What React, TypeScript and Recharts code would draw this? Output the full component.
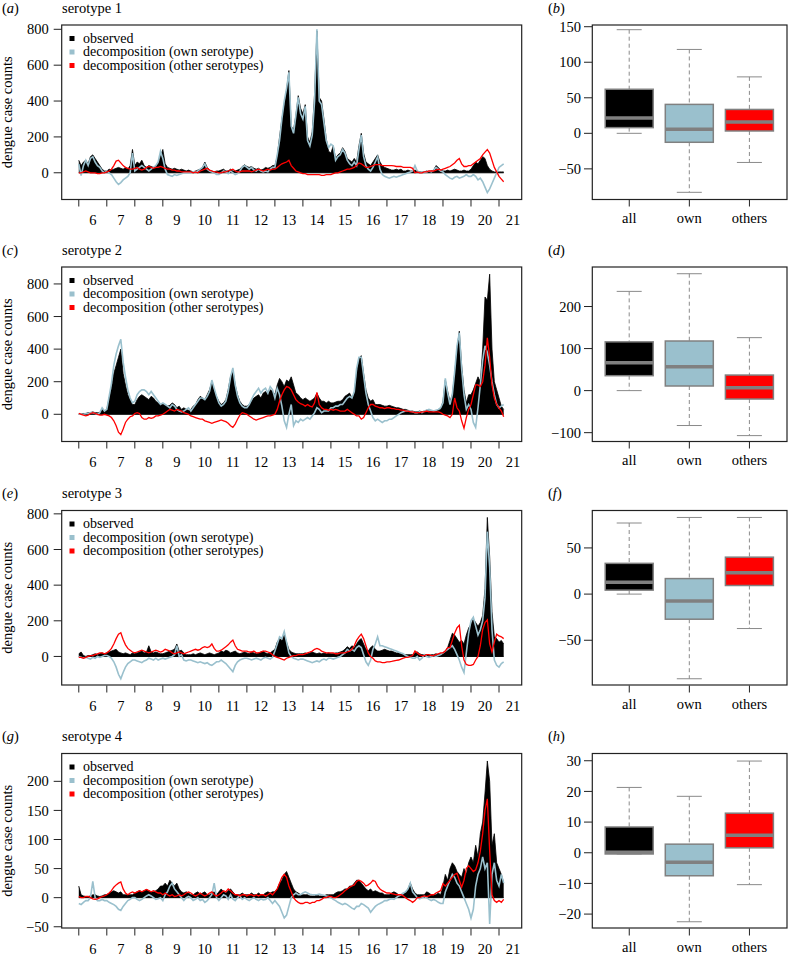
import React from "react";
import { ComposedChart, Area, Line, XAxis, YAxis, ReferenceLine, BarChart, Bar } from "recharts";

const FONT = "Liberation Serif, DejaVu Serif, Tinos, serif";
const OWN = "#9AC0CD";
const OTHER = "#FF0000";
const FRAME = "#222222";
const BOXLINE = "#808080";

// monthly values, Jan 2006 .. Mar 2021
const START_YEAR = 2006;

const obs1 = [
  70, 40, 60, 70, 50, 90, 100, 80, 60, 40, 20, 10,
  10, 20, 15, 20, 25, 30, 25, 20, 30, 20, 40, 130,
  40, 60, 50, 70, 40, 30, 40, 35, 30, 40, 50, 90,
  130, 50, 30, 25, 20, 25, 20, 15, 20, 15, 10, 15,
  10, 5, 10, 15, 20, 30, 60, 30, 15, 10, 5, 10,
  10, 15, 20, 10, 10, 20, 10, 10, 15, 20, 35, 45,
  35, 30, 35, 25, 20, 25, 15, 20, 30, 25, 30, 40,
  40, 90, 200, 300, 380, 460, 570, 260, 240, 320, 430, 360,
  330, 380, 200, 170, 230, 440, 790, 420, 400, 300, 190, 120,
  110, 150, 80, 100, 110, 140, 120, 80, 70, 60, 80, 60,
  150, 220, 110, 60, 50, 40, 60, 80, 100, 60, 40, 30,
  25, 20, 15, 15, 20, 15, 20, 10, 10, 15, 10, 10,
  15, 10, 5, 5, 5, 10, 5, 10, 15, 40, 30, 15,
  10, 10, 15, 10, 15, 20, 15, 10, 10, 15, 10, 10,
  20, 40, 60, 50, 70, 90, 80, 40, 20, 10, 5, 5,
  5, 5, 5,
];
const own1 = [
  50, -15, 40, 70, 40, 80, 90, 60, 40, 30, 10, 0,
  10, 0, -10, -30, -50, -65, -55, -40, -30, -20, 0, 110,
  10, 20, 30, 40, 30, 20, 10, 20, 30, 40, 60, 120,
  80, 20, -10, -15, -20, -10, -15, -10, -5, 0, 0, 0,
  0, 5, 5, 10, 20, 30, 50, 20, 10, 5, 0, -10,
  -10, 0, 10, 5, -5, 10, 0, -10, -5, 10, 30, 40,
  30, 20, 30, 15, 10, 20, 10, 5, 10, 5, 20, 30,
  30, 100, 180, 300, 400, 470, 560, 260, 220, 320, 420, 330,
  300, 370, 180, 150, 210, 400, 800, 400, 380, 280, 180, 140,
  160, 150, 70, 90, 100, 130, 110, 70, 50, 40, 60, 40,
  130, 210, 90, 40, 20, 10, 30, 60, 90, 20, -10, -20,
  -25, -30, -25, -20, -25, -20, -15, -10, -5, 0, 5, 10,
  40, 10, 0, 5, 0, 5, 10, 5, 15, 30, 20, 10,
  5, -10, -20, -30, -35, -25, -20, -30, -25, -20, -10, -20,
  -20, -10, -20, -40, -30, -50, -80, -110, -90, -60, -30, 0,
  30, 40, 50,
];
const oth1 = [
  0, 0, 5, 10, 5, 0, 0, 0, -5, -5, 0, 0,
  5, 10, 20, 40, 65, 70, 55, 40, 30, 25, 20, 20,
  25, 30, 20, 15, 20, 30, 35, 30, 25, 30, 30, 35,
  30, 25, 20, 20, 15, 15, 10, 10, 5, 5, 5, 5,
  5, 0, 5, 0, 10, 15, 20, 25, 15, 10, 5, 5,
  0, 0, 5, 5, 10, 15, 20, 10, 5, 5, 10, 10,
  10, 10, 5, 10, 15, 20, 15, 10, 15, 20, 15, 20,
  20, 30, 40, 50, 55, 60, 70, 40, 25, 10, 5, 0,
  -5, -5, -10, -10, -10, -10, -10, -10, -15, -15, -10, -10,
  -10, -5, 0, 0, 5, 10, 15, 20, 20, 25, 30, 40,
  55, 50, 40, 30, 30, 35, 40, 45, 45, 45, 40, 40,
  40, 40, 40, 38, 35, 35, 35, 30, 30, 30, 30, 25,
  0, 5, 0, 0, 5, 5, 10, 10, 10, 15, 20, 15,
  20, 25, 30, 35, 45, 55, 70, 80, 50, 35, 35, 40,
  40, 50, 60, 70, 80, 100, 115, 130, 110, 70, 30, 5,
  -20, -35, -50,
];

const obs2 = [
  0, 0, 5, 5, 10, 10, 15, 10, 10, 10, 30, 20,
  30, 100, 160, 250, 300, 350, 400, 250, 180, 120, 90, 60,
  60, 90, 110, 120, 110, 100, 90, 110, 100, 80, 70, 60,
  60, 60, 50, 55, 70, 60, 40, 50, 30, 40, 30, 25,
  30, 50, 60, 90, 110, 100, 90, 120, 150, 200, 150, 110,
  80, 60, 70, 90, 150, 230, 270, 180, 120, 80, 60, 50,
  50, 60, 80, 100, 110, 120, 100, 130, 140, 120, 150, 140,
  120, 180, 220, 200, 170, 210, 200, 230, 180, 130, 120, 100,
  90, 100, 90, 80, 90, 100, 130, 100, 80, 80, 70, 80,
  70, 70, 75, 80, 80, 90, 110, 120, 130, 100, 130, 250,
  340, 360, 250, 150, 100, 80, 90, 60, 60, 60, 55, 50,
  50, 55, 50, 45, 40, 40, 35, 30, 30, 25, 20, 20,
  15, 15, 20, 15, 20, 25, 20, 20, 20, 20, 25, 30,
  80, 210, 140, 80, 120, 250, 400, 510, 300, 150, 70, 120,
  120, 150, 190, 230, 200, 400, 720, 700, 860, 400, 200, 150,
  100, 50, 30,
];
const own2 = [
  0, 0, 0, 5, 5, 10, 10, 5, 0, 10, 40, 20,
  30, 110, 190, 300, 370, 420, 460, 320, 230, 150, 100, 70,
  80, 120, 140, 150, 150, 140, 120, 140, 120, 100, 80, 60,
  70, 60, 50, 40, 60, 50, 30, 20, 15, 20, 30, 40,
  20, 40, 60, 80, 100, 100, 90, 110, 140, 210, 160, 110,
  70, 50, 60, 80, 140, 230, 285, 180, 110, 70, 50, 40,
  40, 60, 90, 120, 140, 160, 130, 150, 160, 130, 170, 150,
  100, 160, 120, 50, -40, -80, 0, 60, -70, -40, -50, -30,
  -40, -30, -20, -30, -10, 10, 40, 30, 10, 20, 20, 20,
  40, 40, 50, 50, 60, 60, 80, 100, 110, 100, 140, 280,
  350, 350, 240, 130, 60, 20, -20, -40, -30, -40, -50, -40,
  -40, -30, -30, -20, -10, 0, 10, 15, 20, 20, 20, 15,
  10, 10, 15, 10, 20, 25, 30, 25, 20, 25, 30, 40,
  70, 220, 130, 60, 120, 260, 420, 500, 280, 120, 30, 60,
  30, -50, -80, 40, 180, 330, 420, 380, 300, 200, 120, 60,
  40, 50, 60,
];
const oth2 = [
  5, 0, -5, -10, -5, 5, 10, 5, 0, -5, -5, 0,
  -5, -10, -20, -40, -70, -110, -125, -90, -50, -30, -15, -10,
  5, 10, 5, -20, -30, -30, -20, -25, -20, -10, -10, -5,
  0, 10, 20, 30, 25, 20, 30, 25, 20, 10, 5, 0,
  -10, -15, -20, -25, -30, -30, -40, -45, -50, -55, -50, -45,
  -40, -35, -40, -45, -55, -70, -80, -60, -30, -5, 10, 5,
  0, -10, -20, -30, -35, -30, -25, -20, -15, -10, -10, -5,
  0, 30, 80, 120, 150, 170, 165, 150, 120, 90, 75, 65,
  60, 50, 60, 50, 45, 70, 135, 60, 40, 30, 30, 25,
  30, 25, 30, 25, 20, 20, 20, 30, 20, 10, 0, -10,
  -10, -30, -20, 10, 40, 60, 60, 50, 45, 40, 40, 35,
  40, 40, 35, 35, 30, 30, 25, 25, 20, 20, 15, 15,
  10, 10, 10, 15, 15, 20, 15, 15, 15, 15, 15, 10,
  0, -5, -10, -20, 0, 100, 40, 20, -40, -85, -20, 30,
  60, 120, 180, 180, 170, 200, 300, 470, 350, 180, 100, 60,
  40, 20, -15,
];

const obs3 = [
  15, 25, 5, 0, 5, 5, 10, 15, 10, 15, 20, 15,
  20, 25, 30, 35, 40, 25, 20, 15, 20, 15, 10, 20,
  15, 20, 25, 30, 20, 25, 60, 25, 20, 25, 20, 15,
  15, 20, 25, 30, 35, 40, 70, 30, 35, 20, 10, 10,
  10, 15, 10, 15, 20, 15, 10, 15, 20, 15, 10, 15,
  20, 30, 25, 35, 30, 20, 25, 30, 20, 15, 20, 25,
  20, 15, 25, 20, 15, 20, 25, 30, 20, 15, 20, 30,
  40, 80, 100, 90, 120, 80, 40, 25, 20, 15, 15, 15,
  15, 20, 15, 20, 25, 20, 15, 20, 15, 20, 15, 20,
  15, 15, 20, 20, 25, 30, 40, 55, 45, 60, 50, 70,
  90, 100, 70, 40, 30, 50, 60, 40, 30, 30, 35, 40,
  35, 30, 30, 25, 20, 20, 15, 10, 10, 10, 10, 10,
  20, 25, 15, 10, 10, 10, 5, 10, 10, 15, 10, 15,
  15, 30, 50, 90, 130, 120, 100, 80, 90, 70, 120, 160,
  180, 210, 190, 170, 190, 230, 380, 780, 560, 250, 110, 100,
  80, 90, 70,
];
const own3 = [
  0, -5, -10, -5, -10, -15, -5, -10, 0, -5, 0, 5,
  5, 0, -10, -30, -60, -100, -125, -90, -60, -40, -30, -20,
  -20, -25, -30, -35, -25, -20, -10, -15, -20, -10, -20, -15,
  -10, -15, -10, -5, 0, 10, 60, 0, 10, -20, -25, -20,
  -20, -25, -30, -35, -30, -35, -40, -35, -45, -50, -40, -30,
  -30, -20, -30, -40, -55, -70, -85, -50, -30, -20, -15, -10,
  -10, -15, -20, -15, -10, -15, -20, -10, -5, -10, -15, -5,
  30, 70, 110, 100, 140, 80, 20, 0, -10, -15, -20, -15,
  -15, -20, -25, -30, -35, -30, -25, -30, -20, -15, -20, -10,
  -10, -15, -10, -5, 0, 10, 20, 40, 30, 40, 30, 50,
  60, 50, 10, -30, -50, -20, 40, 70, 110, 60, 60, 55,
  50, 45, 40, 35, 30, 25, 20, 15, 5, 0, -5, -10,
  -10, 0, -20, -10, 10, 0, -5, 0, 5, 0, 5, 10,
  20, 30, 40, 50, 60, 40, 10, -20, -60, -90, 20, 130,
  200, 220, 170, 120, 150, 200, 330, 700, 500, 150, -20, -50,
  -60, -40, -30,
];
const oth3 = [
  -5, -5, -10, -5, 0, 5, 5, 10, 15, 20, 20, 15,
  20, 30, 45, 70, 100, 125, 133, 95, 65, 45, 35, 25,
  20, 25, 30, 35, 30, 25, 20, 25, 30, 35, 30, 25,
  30, 40, 35, 30, 20, 15, 20, 25, 20, 15, 20, 25,
  30, 35, 40, 35, 40, 50, 55, 50, 55, 70, 45, 30,
  30, 35, 45, 55, 65, 80, 92, 60, 40, 35, 30, 30,
  30, 25, 25, 30, 20, 20, 25, 30, 30, 25, 20, 10,
  0, -5, -10, -15, -20, -10, -5, 0, 5, 5, 10, 10,
  10, 15, 20, 25, 30, 40, 45, 40, 30, 25, 20, 20,
  20, 20, 15, 15, 20, 20, 20, 25, 30, 40, 60, 90,
  110, 125, 100, 60, 20, 0, -10, -25, -30, -30, -35, -35,
  -30, -30, -28, -25, -22, -20, -15, -10, -5, -5, 0, 5,
  30, 20, 10, 5, 5, 10, 10, 5, 5, 10, 15, 20,
  20, 30, 50, 50, 90, 130, 160, 175, 60, -20, -45, -50,
  -50, -45, -20, 0, 60, 150, 190, 205, 70, 25, 80, 125,
  115, 110, 100,
];

const obs4 = [
  20, 5, 3, 2, 2, 3, 5, 5, 3, 2, 3, 5,
  5, 8, 10, 12, 10, 8, 10, 5, 5, 5, 5, 5,
  8, 10, 12, 10, 12, 14, 12, 10, 10, 12, 15, 20,
  20, 25, 20, 30, 25, 20, 25, 15, 10, 8, 10, 8,
  5, 5, 8, 10, 5, 8, 10, 5, 5, 8, 10, 5,
  10, 15, 10, 8, 12, 15, 10, 5, 5, 5, 8, 5,
  5, 5, 8, 5, 5, 8, 5, 5, 8, 10, 8, 10,
  10, 15, 25, 30, 40, 45, 35, 25, 15, 10, 8, 5,
  5, 5, 5, 3, 3, 3, 5, 3, 3, 3, 5, 5,
  5, 5, 8, 10, 10, 12, 15, 15, 20, 20, 25, 30,
  30, 25, 20, 15, 12, 15, 10, 12, 10, 8, 8, 5,
  5, 5, 8, 10, 8, 5, 5, 5, 10, 15, 25, 15,
  8, 5, 5, 5, 5, 10, 8, 5, 5, 5, 8, 5,
  20, 40, 30, 50, 60, 55, 45, 40, 35, 50, 40, 60,
  70, 60, 90, 70, 110, 130, 180, 235, 200, 90, 110, 60,
  50, 40, 25,
];
const own4 = [
  -10, -12, -8, -5, -5, 0, 28, 0, -5, -5, -3, -5,
  -5, -8, -10, -12, -15, -20, -22, -15, -10, -5, -3, 0,
  0, -3, -5, -3, 0, 3, 5, 3, 0, -3, -2, 0,
  -5, 5, 10, 20, 25, 15, 10, 5, 0, -5, 0, 2,
  0, -5, -3, 0, -5, -3, -8, -5, 0, 5, 25, 0,
  -5, 0, 5, 3, -3, 5, -2, -5, 0, 3, -3, 0,
  -3, -5, -2, 0, -3, -5, -2, -4, -3, 0, -5, -10,
  -5, -10, -15, -25, -35, -30, -15, 0, 5, 8, 5, 5,
  8, 10, 8, 6, 5, 5, 5, 6, 5, 4, 3, 2,
  0, -3, -5, -8, -10, -12, -10, -12, -15, -18, -20, -15,
  -15, -10, -12, -15, -18, -25, -20, -15, -12, -10, -8, -5,
  -5, -3, -2, -3, 0, 3, 5, 8, 10, 15, 25, 10,
  5, 0, -2, 0, 2, 0, -3, -5, -3, -5, -8, -10,
  -10, 10, 20, 30, 40, 35, 25, 20, 10, 0, -10, -20,
  -35, -20, 20, 40, 50, 70, 50, 60, -45, 40, 60, 30,
  20, 40, 25,
];
const oth4 = [
  2, 0, 0, 2, 2, 0, -2, -3, -2, 0, 2, 3,
  5, 8, 12, 18, 22, 25, 27, 15, 8, 5, 8, 10,
  8, 10, 12, 10, 12, 14, 12, 10, 12, 10, 8, 8,
  5, 8, 5, 3, 5, 2, 3, 5, 3, 5, 8, 10,
  8, 5, 3, 5, 8, 5, 3, 5, 8, 10, 5, 3,
  5, 8, 12, 10, 15, 12, 8, 5, 5, 3, 5, 5,
  3, 5, 5, 3, 5, 3, 5, 5, 3, 5, 8, 5,
  10, 15, 25, 35, 40, 35, 20, 10, 0, -5, -8, -10,
  -10, -8, -8, -10, -8, -8, -5, -5, -3, 0, 0, 2,
  2, 0, 0, 2, 5, 8, 12, 15, 18, 20, 22, 28,
  30, 28, 25, 20, 22, 25, 30, 28, 20, 15, 12, 10,
  8, 8, 7, 6, 5, 5, 5, 3, 0, -3, -5, -8,
  -5, 0, 0, 2, 3, 2, 3, 5, 5, 8, 10, 12,
  24, 20, 25, 30, 35, 40, 42, 30, 18, 30, 50, 55,
  50, 45, 48, 60, 80, 110, 150, 170, 80, 5, -5, -8,
  -5, -8, -3,
];

const yearTicks = [2006, 2007, 2008, 2009, 2010, 2011, 2012, 2013, 2014, 2015, 2016, 2017, 2018, 2019, 2020, 2021];
const yearLabels = ["6", "7", "8", "9", "10", "11", "12", "13", "14", "15", "16", "17", "18", "19", "20", "21"];

const boxNames = ["all", "own", "others"];
const boxFills = ["#000000", OWN, OTHER];

const box1 = { low: [0, -83, -41], q1: [8, -12.6, 3.3], med: [21.5, 5.6, 15.9], q3: [62, 40.7, 33.6], high: [145.8, 118, 79.4] };
const box2 = { low: [0, -83, -107], q1: [35.5, 11, -20], med: [66, 57, 7], q3: [116, 118, 37], high: [236, 278, 126] };
const box3 = { low: [0, -91.7, -37.3], q1: [4.3, -27.2, 9.3], med: [12.9, -7.5, 23], q3: [33.3, 16.8, 40], high: [77, 83, 83] };
const box4 = { low: [-0.4, -22.5, -10.4], q1: [-0.4, -7.5, 1.6], med: [0.2, -3.1, 5.7], q3: [8.4, 2.8, 12.9], high: [21.3, 18.4, 29.9] };

const X_DOMAIN: [number, number] = [2005.39, 2021.81];
const PLOT_H = 174.5;
const TS_LEFT = 61.7;
const TS_W = 460;
const BX_LEFT = 592.3;
const BX_W = 194.7;

const panels = [
  { top: 25, left: "a", right: "b", title: "serotype 1", obs: obs1, own: own1, oth: oth1,
    domain: [-149, 824], ticks: [0, 200, 400, 600, 800], box: box1, boxDomain: [-93.1, 152.4], boxTicks: [-50, 0, 50, 100, 150] },
  { top: 267, left: "c", right: "d", title: "serotype 2", obs: obs2, own: own2, oth: oth2,
    domain: [-167, 904], ticks: [0, 200, 400, 600, 800], box: box2, boxDomain: [-121, 294], boxTicks: [-100, 0, 100, 200] },
  { top: 510.5, left: "e", right: "f", title: "serotype 3", obs: obs3, own: own3, oth: oth3,
    domain: [-163, 816], ticks: [0, 200, 400, 600, 800], box: box3, boxDomain: [-99, 90], boxTicks: [-50, 0, 50] },
  { top: 753.5, left: "g", right: "h", title: "serotype 4", obs: obs4, own: own4, oth: oth4,
    domain: [-53, 247], ticks: [-50, 0, 50, 100, 150, 200], box: box4, boxDomain: [-24.7, 32.2], boxTicks: [-20, -10, 0, 10, 20, 30] },
];

const fmt = (v: number) => (v < 0 ? "\u2212" + Math.abs(v) : String(v));
const tickText = { fill: "#000", fontSize: 14.5, style: { fontFamily: FONT } };

function YearTick(props: any) {
  const { x, y, index } = props;
  const half = TS_W / (X_DOMAIN[1] - X_DOMAIN[0]) / 2;
  return (
    <text x={x + half} y={y} dy="0.71em" textAnchor="middle" fontSize={14.5} style={{ fontFamily: FONT }} fill="#000">
      {yearLabels[index]}
    </text>
  );
}

function BoxShape(props: any) {
  const { x, y, width, height, payload } = props;
  if (x == null || y == null || !payload) return null;
  const cx = x + width / 2;
  const yTop = Math.min(y, y + height);
  const yBot = Math.max(y, y + height);
  const { low, high, q1, med, q3, fill } = payload;
  const span = high - low;
  const py = (v: number) => (span === 0 ? yBot : yBot - ((v - low) / span) * (yBot - yTop));
  const bw = 48;
  const cw = 25;
  return (
    <g>
      <line x1={cx} x2={cx} y1={py(high)} y2={py(q3)} stroke="#8a8a8a" strokeDasharray="4 3" />
      <line x1={cx} x2={cx} y1={py(q1)} y2={py(low)} stroke="#8a8a8a" strokeDasharray="4 3" />
      <line x1={cx - cw / 2} x2={cx + cw / 2} y1={py(high)} y2={py(high)} stroke="#8a8a8a" />
      <line x1={cx - cw / 2} x2={cx + cw / 2} y1={py(low)} y2={py(low)} stroke="#8a8a8a" />
      <rect x={cx - bw / 2} y={py(q3)} width={bw} height={Math.max(py(q1) - py(q3), 0.5)} fill={fill} stroke={BOXLINE} strokeWidth={1.5} />
      <line x1={cx - bw / 2} x2={cx + bw / 2} y1={py(med)} y2={py(med)} stroke={BOXLINE} strokeWidth={3.5} />
    </g>
  );
}

function SeriesChart({ p }: { p: any }) {
  const rows = p.obs.map((v: number, i: number) => ({
    t: START_YEAR + i / 12,
    obs: v,
    own: p.own[i],
    oth: p.oth[i],
  }));
  const tEnd = rows[rows.length - 1].t;
  return (
    <div style={{ position: "absolute", left: 0, top: p.top - 5 }}>
      <ComposedChart width={530} height={5 + PLOT_H + 30} data={rows} margin={{ top: 5, right: 530 - TS_LEFT - TS_W, bottom: 0, left: 0 }}>
        <XAxis dataKey="t" type="number" domain={X_DOMAIN} allowDataOverflow ticks={yearTicks} interval={0}
          axisLine={false} tickLine={{ stroke: FRAME }} tickSize={7} tickMargin={8} height={30}
          tick={(tp: any) => <YearTick {...tp} />} />
        <YAxis type="number" domain={p.domain} allowDataOverflow ticks={p.ticks} interval={0} width={TS_LEFT}
          axisLine={false} tickLine={{ stroke: FRAME }} tickSize={8} tickMargin={5} tick={tickText} tickFormatter={fmt} />
        <Area dataKey="obs" type="linear" baseValue={0} fill="#000" fillOpacity={1} stroke="#000" strokeWidth={0.8}
          dot={false} activeDot={false} isAnimationActive={false} />
        <ReferenceLine segment={[{ x: START_YEAR, y: 0 }, { x: tEnd, y: 0 }]} stroke="#000" strokeWidth={1} />
        <Line dataKey="own" type="linear" stroke={OWN} strokeWidth={1.6} dot={false} activeDot={false} isAnimationActive={false} />
        <Line dataKey="oth" type="linear" stroke={OTHER} strokeWidth={1.3} dot={false} activeDot={false} isAnimationActive={false} />
      </ComposedChart>
    </div>
  );
}

function BoxChart({ p }: { p: any }) {
  const b = p.box;
  const rows = boxNames.map((name, k) => ({
    name,
    low: b.low[k],
    q1: b.q1[k],
    med: b.med[k],
    q3: b.q3[k],
    high: b.high[k],
    range: [b.low[k], b.high[k]],
    fill: boxFills[k],
  }));
  const yw = 60;
  const w = 256;
  return (
    <div style={{ position: "absolute", left: BX_LEFT - yw, top: p.top - 5 }}>
      <BarChart width={w} height={5 + PLOT_H + 30} data={rows} margin={{ top: 5, right: w - yw - BX_W, bottom: 0, left: 0 }}>
        <XAxis dataKey="name" type="category" padding={{ left: 7.2, right: 7.2 }} axisLine={false}
          tickLine={{ stroke: FRAME }} tickSize={7} tickMargin={6} height={30} tick={tickText} interval={0} />
        <YAxis type="number" domain={p.boxDomain} allowDataOverflow ticks={p.boxTicks} interval={0} width={yw}
          axisLine={false} tickLine={{ stroke: FRAME }} tickSize={8} tickMargin={3} tick={tickText} tickFormatter={fmt} />
        <Bar dataKey="range" barSize={48} isAnimationActive={false} shape={(sp: any) => <BoxShape {...sp} />} />
      </BarChart>
    </div>
  );
}

export default function App() {
  return (
    <div style={{ position: "absolute", left: 0, top: 0, width: 788, height: 957, background: "#fff", fontFamily: FONT }}>
      {panels.map((p) => (
        <React.Fragment key={p.left}>
          <SeriesChart p={p} />
          <BoxChart p={p} />
        </React.Fragment>
      ))}
      <svg width={788} height={957} style={{ position: "absolute", left: 0, top: 0, pointerEvents: "none", fontFamily: FONT }}
        fontSize={14.5}>
        {panels.map((p) => (
          <g key={p.left}>
            <rect x={TS_LEFT} y={p.top} width={TS_W} height={PLOT_H} fill="none" stroke={FRAME} strokeWidth={1.2} />
            <rect x={BX_LEFT} y={p.top} width={BX_W} height={PLOT_H} fill="none" stroke={FRAME} strokeWidth={1.2} />
            <text x={2} y={p.top - 12.3}>(<tspan fontStyle="italic">{p.left}</tspan>)</text>
            <text x={62} y={p.top - 12.3}>{p.title}</text>
            <text x={548} y={p.top - 12.3}>(<tspan fontStyle="italic">{p.right}</tspan>)</text>
            <text transform={`translate(12, ${p.top + PLOT_H / 2}) rotate(-90)`} textAnchor="middle">dengue case counts</text>
            <rect x={69.5} y={p.top + 11} width={5} height={5} fill="#000" />
            <rect x={69.5} y={p.top + 24.5} width={5} height={5} fill={OWN} />
            <rect x={69.5} y={p.top + 38} width={5} height={5} fill={OTHER} />
            <g fontSize={14}>
              <text x={83} y={p.top + 17.5}>observed</text>
              <text x={83} y={p.top + 31}>decomposition (own serotype)</text>
              <text x={83} y={p.top + 44.5}>decomposition (other serotypes)</text>
            </g>
          </g>
        ))}
      </svg>
    </div>
  );
}
